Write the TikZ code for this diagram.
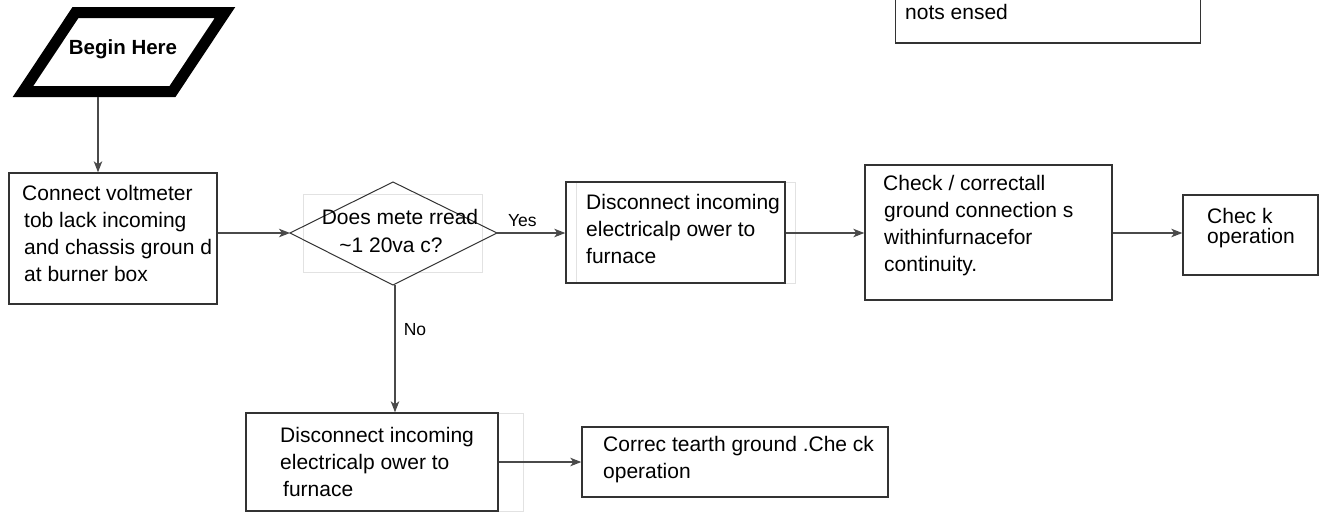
\documentclass[tikz,border=0pt]{standalone}
\usepackage{fontspec}
\setmainfont{Liberation Sans}
\usetikzlibrary{arrows.meta,shapes.geometric}
\definecolor{boxc}{HTML}{333333}
\definecolor{linec}{HTML}{4A4A4A}
\definecolor{faint}{HTML}{E2E2E2}
\tikzset{
  box/.style={draw=boxc,line width=1.4pt,fill=white,inner sep=0pt},
  faintbox/.style={draw=faint,line width=0.8pt,inner sep=0pt},
  txt/.style={font=\fontsize{21}{27}\selectfont,align=left,inner sep=0pt,anchor=west},
  lbl/.style={font=\fontsize{17.5}{20}\selectfont,inner sep=0pt},
  conn/.style={draw=linec,line width=1.1pt,-{Stealth[length=11pt,width=8.5pt,inset=3pt]}}
}
\begin{document}
\begin{tikzpicture}[x=1pt,y=-1pt]
\useasboundingbox (0,0) rectangle (1322,512);
\fill[white] (0,0) rectangle (1322,512);
\begin{scope}
\clip (0,0) rectangle (1322,512);
% top right box (cut off)
\node[box,minimum width=305pt,minimum height=70pt] (nots) at (1048,8) {};
\node[txt] (notst) at (905,12) {nots ensed};
% lower-left box (bottom at edge)
\node[faintbox,minimum width=253pt,minimum height=98pt] (dis2f) at (396.5,462) {};
\node[box,minimum width=252pt,minimum height=98pt] (dis2) at (372,462) {};
\end{scope}

% Begin Here parallelogram
\draw[black,line width=11pt,line join=miter,fill=white] (75.5,12.5) -- (225,12.5) -- (172.5,91.5) -- (23,91.5) -- cycle;
\node[font=\bfseries\fontsize{20.5}{24}\selectfont,inner sep=0pt] (begin) at (123,49) {Begin Here};
\coordinate (beginbot) at (98,97);

% Connect voltmeter box
\node[box,minimum width=208pt,minimum height=131pt] (conn) at (113,238.5) {};
\node[txt] (connt) at (22,233) {Connect voltmeter\\\hspace*{2pt}tob lack incoming\\\hspace*{2pt}and chassis groun d\\\hspace*{2pt}at burner box};

% Decision
\node[faintbox,minimum width=179pt,minimum height=78pt] (decf) at (392.5,233) {};
\draw[boxc,line width=1pt] (290,233) -- (393,182) -- (497,233) -- (393,285) -- cycle;
\coordinate (decL) at (290,233);
\coordinate (decR) at (497,233);
\coordinate (decB) at (395,285);
\node[font=\fontsize{21}{27}\selectfont,inner sep=0pt] (dect1) at (400,217) {Does mete rread};
\node[font=\fontsize{21}{27}\selectfont,inner sep=0pt] (dect2) at (391,245) {\textasciitilde1 20va c?};

% Disconnect (yes)
\node[faintbox,minimum width=219pt,minimum height=101pt] (dis1f) at (685.5,232.5) {};
\node[box,minimum width=219pt,minimum height=101pt,fill=none] (dis1) at (675.5,232.5) {};
\node[txt] (dis1t) at (586,229) {Disconnect incoming\\electricalp ower to\\furnace};

% Check / correct
\node[box,minimum width=247pt,minimum height=135pt] (chk) at (988.5,232.5) {};
\node[txt] (chkt) at (883,226) {Check / correctall\\\hspace*{1pt}ground connection s\\\hspace*{1pt}withinfurnacefor\\\hspace*{1pt}continuity.};

% Check operation
\node[box,minimum width=135pt,minimum height=80pt] (op) at (1250.5,235) {};
\node[txt,font=\fontsize{21}{20.5}\selectfont] (opt) at (1207,228) {Chec k\\operation};

% lower texts
\node[txt] (dis2t) at (280,462) {Disconnect incoming\\electricalp ower to\\\hspace*{3pt}furnace};

% Correct earth ground
\node[box,minimum width=306pt,minimum height=70pt] (cor) at (735,462) {};
\node[txt] (cort) at (603,459.5) {Correc tearth ground .Che ck\\operation};

% connectors
\draw[conn] (beginbot) -- (beginbot |- conn.north);
\draw[conn] (conn.east |- decL) -- (decL);
\draw[conn] (decR) -- (dis1.west |- decR) node[lbl,pos=0.37,above=6pt] (yes) {Yes};
\draw[conn] (dis1.east |- decR) -- (chk.west |- decR);
\draw[conn] (chk.east |- decR) -- (op.west |- decR);
\draw[conn] (decB) -- (decB |- dis2.north);
\node[lbl] (no) at (415,330) {No};
\draw[conn] (dis2.east |- cor.west) -- (cor.west);
\end{tikzpicture}
\end{document}
